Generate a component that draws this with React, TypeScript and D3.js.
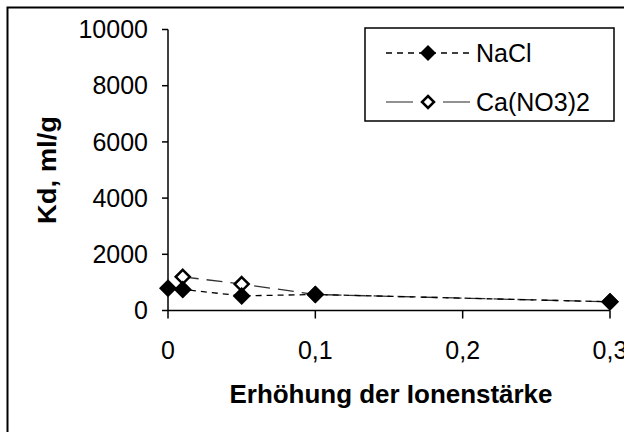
import * as d3 from 'd3'
import React from 'react'

const xTicks = [0, 0.1, 0.2, 0.3]
const yTicks = [0, 2000, 4000, 6000, 8000, 10000]
const naclX = [0, 0.01, 0.05, 0.1, 0.3]
const naclY = [790, 750, 520, 570, 310]
const caX = [0.01, 0.05, 0.1, 0.3]
const caY = [1200, 940, 570, 310]
const seriesNames = ['NaCl', 'Ca(NO3)2']

const W = 624
const H = 432
const font = 'Liberation Sans, Arial, sans-serif'

const diamond = (r: number) => `M0,${-r}L${r},0L0,${r}L${-r},0Z`

export default function App() {
  const
    x = d3.scaleLinear().domain([0, 0.3]).range([168, 610]),
    y = d3.scaleLinear().domain([0, 10000]).range([310.5, 29.5]),
    line = d3.line<[number, number]>().x(d => x(d[0])).y(d => y(d[1])),
    nacl = naclX.map((v, i) => [v, naclY[i]] as [number, number]),
    ca = caX.map((v, i) => [v, caY[i]] as [number, number]),
    fmt = (v: number) => v === 0 ? '0' : String(v).replace('.', ',')

  return (
    <svg width={W} height={H} style={{ position: 'absolute', left: 0, top: 0, background: '#fff' }}
      fontFamily={font}>
      <rect x={7.5} y={7.5} width={W + 20} height={H + 20} fill='#fff' stroke='#000' strokeWidth={2} />

      {/* axes */}
      <line x1={x(0)} x2={x(0)} y1={y(10000)} y2={y(0)} stroke='#000' strokeWidth={1.5} />
      <line x1={x(0)} x2={x(0.3)} y1={y(0)} y2={y(0)} stroke='#000' strokeWidth={1.5} />
      {yTicks.map(t => (
        <g key={t}>
          <line x1={x(0) - 6} x2={x(0)} y1={y(t)} y2={y(t)} stroke='#000' strokeWidth={1.5} />
          <text x={148} y={y(t)} dy='0.35em' textAnchor='end' fontSize={25}>{t}</text>
        </g>
      ))}
      {xTicks.map(t => (
        <g key={t}>
          <line x1={x(t)} x2={x(t)} y1={y(0)} y2={y(0) + 8} stroke='#000' strokeWidth={1.5} />
          <text x={x(t)} y={359} textAnchor='middle' fontSize={25}>{fmt(t)}</text>
        </g>
      ))}

      <text x={391} y={403} textAnchor='middle' fontSize={25} fontWeight='bold'
        textLength={323} lengthAdjust='spacingAndGlyphs'>Erhöhung der Ionenstärke</text>
      <text transform='translate(56,170) rotate(-90)' textAnchor='middle' fontSize={25} fontWeight='bold'
        textLength={108} lengthAdjust='spacingAndGlyphs'>Kd, ml/g</text>

      {/* series */}
      <path d={line(ca)!} fill='none' stroke='#333' strokeWidth={1.3} strokeDasharray='16,8' />
      <path d={line(nacl)!} fill='none' stroke='#000' strokeWidth={1.3} strokeDasharray='6,5' />
      {ca.map((d, i) => (
        <path key={i} d={diamond(7)} transform={`translate(${x(d[0])},${y(d[1])})`}
          fill='#fff' stroke='#000' strokeWidth={2.5} />
      ))}
      {nacl.map((d, i) => (
        <path key={i} d={diamond(9)} transform={`translate(${x(d[0])},${y(d[1])})`} fill='#000' />
      ))}

      {/* legend */}
      <rect x={365} y={28} width={249} height={93} fill='#fff' stroke='#000' strokeWidth={1.5} />
      <line x1={386} x2={470} y1={53} y2={53} stroke='#000' strokeWidth={1.3} strokeDasharray='6,5' />
      <path d={diamond(8)} transform='translate(428,53)' fill='#000' />
      <text x={476} y={53} dy='0.35em' fontSize={25}>{seriesNames[0]}</text>
      <line x1={386} x2={413} y1={102} y2={102} stroke='#555' strokeWidth={1.3} />
      <line x1={443} x2={470} y1={102} y2={102} stroke='#555' strokeWidth={1.3} />
      <path d={diamond(6)} transform='translate(428,102)' fill='#fff' stroke='#000' strokeWidth={2.5} />
      <text x={476} y={102} dy='0.35em' fontSize={25}>{seriesNames[1]}</text>
    </svg>
  )
}
